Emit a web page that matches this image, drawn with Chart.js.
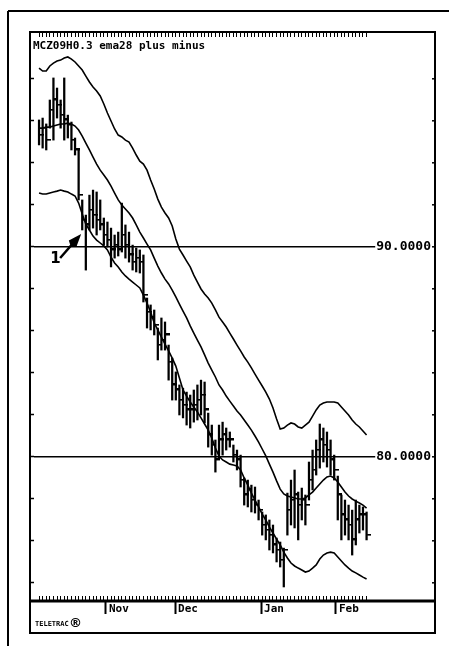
<!DOCTYPE html>
<html>
<head>
<meta charset="utf-8">
<script src="https://cdn.jsdelivr.net/npm/chart.js@4.4.0/dist/chart.umd.min.js"></script>
<style>
  html, body { margin: 0; padding: 0; background: #fff; }
  canvas { display: block; }
</style>
</head>
<body>
<canvas id="chart" width="449" height="646"></canvas>
<script>
// daily bars, one per trading day (index 0 = first bar of the chart)
const highs = [
  96.05, 96.14, 95.86, 97.00, 98.05, 97.57, 97.00, 98.05, 96.28, 95.95,
  95.19, 94.62, 92.24, 91.52, 92.47, 92.71, 92.62, 92.24, 91.38, 91.19,
  90.90, 90.57, 90.71, 92.09, 91.05, 90.71, 90.09, 89.95, 89.86, 89.62,
  87.57, 87.24, 87.00, 86.14, 86.62, 86.43, 85.33, 84.71, 84.05, 83.43,
  83.28, 83.09, 82.95, 83.19, 83.43, 83.66, 83.57, 82.09, 81.52, 80.81,
  81.52, 81.66, 81.38, 81.19, 80.57, 80.33, 80.09, 79.00, 78.90, 78.66,
  78.57, 77.95, 77.38, 77.24, 77.00, 76.76, 76.14, 75.95, 75.66, 78.28,
  78.90, 79.38, 78.33, 78.52, 78.19, 79.76, 80.33, 80.81, 81.57, 81.38,
  81.19, 80.81, 80.09, 79.09, 78.19, 77.95, 77.71, 77.47, 77.95, 77.71,
  77.62, 77.38
];
const lows = [
  94.86, 94.71, 94.62, 95.66, 95.09, 96.14, 95.66, 95.09, 95.19, 94.62,
  94.38, 92.24, 90.81, 88.90, 90.81, 90.90, 90.57, 90.81, 90.09, 90.00,
  89.05, 89.47, 89.57, 89.76, 89.47, 89.28, 88.90, 88.81, 88.76, 87.38,
  86.14, 86.05, 85.81, 84.62, 85.09, 85.09, 83.66, 82.71, 82.71, 82.00,
  81.86, 81.52, 81.38, 81.66, 81.76, 82.00, 81.62, 80.47, 80.09, 79.28,
  79.95, 80.09, 80.33, 80.47, 79.76, 79.38, 78.57, 77.71, 77.62, 77.38,
  77.33, 77.00, 76.28, 76.05, 75.57, 75.43, 75.00, 74.76, 73.81, 76.28,
  76.76, 76.62, 76.05, 77.00, 76.76, 77.95, 78.43, 79.14, 79.47, 79.76,
  79.52, 79.14, 78.90, 77.00, 76.05, 76.28, 76.05, 75.33, 75.81, 76.38,
  76.52, 76.05
];
const closes = [
  95.33, 95.66, 95.09, 96.52, 97.00, 96.76, 96.28, 96.05, 95.81, 95.09,
  94.62, 92.47, 91.28, 91.05, 91.76, 91.52, 91.28, 91.05, 90.57, 90.33,
  89.86, 90.09, 89.86, 90.57, 90.09, 89.62, 89.28, 89.47, 89.28, 87.71,
  86.90, 86.62, 86.28, 85.33, 85.57, 85.81, 84.52, 83.43, 83.19, 82.71,
  82.47, 82.24, 82.24, 82.47, 82.71, 82.95, 82.24, 81.05, 80.57, 79.86,
  80.81, 81.05, 80.81, 80.81, 80.09, 79.86, 78.90, 78.19, 78.43, 77.95,
  77.71, 77.47, 76.76, 76.52, 76.28, 75.81, 75.57, 75.09, 75.57, 77.47,
  77.95, 78.19, 77.71, 77.95, 77.71, 78.90, 79.38, 80.33, 80.81, 80.57,
  80.33, 79.86, 79.38, 78.19, 77.24, 77.00, 76.76, 76.05, 77.00, 77.24,
  77.24, 76.28
];

// ema28 and the plus / minus envelope
const ema28 = [
  95.66, 95.66, 95.71, 95.71, 95.76, 95.81, 95.86, 95.86, 95.90, 95.86,
  95.76, 95.57, 95.28, 94.95, 94.62, 94.28, 93.95, 93.66, 93.43, 93.19,
  92.90, 92.57, 92.24, 92.00, 91.81, 91.62, 91.38, 91.05, 90.71, 90.43,
  90.14, 89.86, 89.47, 89.09, 88.76, 88.47, 88.24, 87.95, 87.62, 87.28,
  86.95, 86.62, 86.24, 85.90, 85.57, 85.24, 84.86, 84.47, 84.14, 83.81,
  83.43, 83.19, 82.90, 82.66, 82.43, 82.19, 82.00, 81.76, 81.52, 81.28,
  81.00, 80.71, 80.38, 80.05, 79.66, 79.28, 78.86, 78.47, 78.24, 78.14,
  78.09, 78.05, 78.00, 78.00, 78.05, 78.19, 78.33, 78.52, 78.71, 78.90,
  79.05, 79.09, 79.00, 78.81, 78.57, 78.33, 78.14, 78.00, 77.90, 77.81,
  77.71, 77.57
];
const bandPlus = [
  98.52, 98.38, 98.38, 98.62, 98.76, 98.86, 98.90, 99.00, 99.05, 98.95,
  98.81, 98.62, 98.43, 98.14, 97.86, 97.62, 97.43, 97.19, 96.81, 96.38,
  96.00, 95.62, 95.33, 95.24, 95.09, 95.00, 94.71, 94.38, 94.09, 93.95,
  93.66, 93.19, 92.76, 92.28, 91.90, 91.62, 91.38, 91.00, 90.38, 89.90,
  89.62, 89.33, 89.05, 88.66, 88.33, 88.00, 87.76, 87.57, 87.33, 87.00,
  86.66, 86.43, 86.19, 85.90, 85.62, 85.33, 85.05, 84.76, 84.52, 84.24,
  83.95, 83.66, 83.38, 83.09, 82.76, 82.33, 81.81, 81.33, 81.38, 81.52,
  81.62, 81.57, 81.43, 81.38, 81.52, 81.66, 81.95, 82.24, 82.47, 82.57,
  82.62, 82.62, 82.62, 82.57, 82.38, 82.19, 82.00, 81.76, 81.57, 81.43,
  81.24, 81.05
];
const bandMinus = [
  92.57, 92.52, 92.52, 92.57, 92.62, 92.66, 92.71, 92.66, 92.62, 92.52,
  92.43, 92.09, 91.57, 91.09, 90.81, 90.52, 90.33, 90.19, 90.05, 89.86,
  89.52, 89.24, 89.05, 88.81, 88.62, 88.47, 88.33, 88.19, 88.05, 87.71,
  87.33, 86.90, 86.38, 86.05, 85.71, 85.38, 85.05, 84.71, 84.33, 83.76,
  83.19, 82.90, 82.62, 82.38, 82.14, 81.86, 81.57, 81.28, 80.90, 80.43,
  80.05, 79.86, 79.76, 79.66, 79.62, 79.57, 79.38, 79.00, 78.66, 78.28,
  77.95, 77.62, 77.28, 77.00, 76.66, 76.38, 76.09, 75.81, 75.47, 75.19,
  74.95, 74.81, 74.71, 74.62, 74.52, 74.57, 74.71, 74.86, 75.14, 75.33,
  75.43, 75.47, 75.43, 75.24, 75.05, 74.86, 74.71, 74.57, 74.48, 74.38,
  74.28, 74.19
];

// axis ticks and labels
const monthNames = ['Nov', 'Dec', 'Jan', 'Feb'];
const monthAt = [18.6, 37.8, 61.7, 82.5];
const yTicks = [74, 76, 78, 80, 82, 84, 86, 88, 90, 92, 94, 96, 98];
const refLevels = [80, 90];
const chartTitle = 'MCZ09H0.3 ema28 plus minus';

const xMin = -1.4, xMax = 108.9;
const yMin = 73.38, yMax = 100;
const mono = 'DejaVu Sans Mono';

// little tick to the right of each bar for the close
const closeTick = document.createElement('canvas');
closeTick.width = 9;
closeTick.height = 3;
const tctx = closeTick.getContext('2d');
tctx.fillStyle = '#000';
tctx.fillRect(5, 0, 4, 2);

const pts = arr => arr.map((v, i) => ({ x: i, y: v }));
const noPad = s => { s.paddingLeft = 0; s.paddingRight = 0; s.paddingTop = 0; s.paddingBottom = 0; };
const dayTicks = s => { s.ticks = highs.map((_, i) => ({ value: i })); };

const lineSet = (label, arr) => ({
  type: 'line', label, data: pts(arr), xAxisID: 'x', yAxisID: 'y',
  borderColor: '#000', borderWidth: 1.6, pointRadius: 0, fill: false, tension: 0
});

// frame, title, arrow and the TELETRAC mark
const framePlugin = {
  id: 'frame',
  afterDraw(chart) {
    const { ctx, chartArea: a, scales } = chart;
    const L = a.left - scales.y.width;
    const R = a.right + scales.yR.width;
    const T = a.top - scales.xTop.height;
    const D = a.bottom + scales.xDays.height;
    const B = scales.x.bottom;
    ctx.save();
    ctx.strokeStyle = '#000';
    ctx.fillStyle = '#000';
    const line = (x1, y1, x2, y2) => { ctx.beginPath(); ctx.moveTo(x1, y1); ctx.lineTo(x2, y2); ctx.stroke(); };

    ctx.lineWidth = 2;
    ctx.strokeRect(L, T, R - L, B - T);
    ctx.lineWidth = 3;
    line(L, D + 1, R, D + 1);

    // outer page frame
    ctx.lineWidth = 2;
    line(8, 11, 449, 11);
    line(8, 11, 8, 646);

    // title inside the plot
    ctx.font = 'bold 11px "' + mono + '"';
    ctx.textBaseline = 'top';
    ctx.textAlign = 'left';
    ctx.fillText(chartTitle, L + 3, T + 9);

    // arrow "1"
    const tx = scales.x.getPixelForValue(11.7);
    const ty = scales.y.getPixelForValue(90.62);
    const dx = -21, dy = 24;
    const len = Math.hypot(dx, dy), ux = dx / len, uy = dy / len;
    const hx = tx + ux * 13, hy = ty + uy * 13;
    ctx.beginPath();
    ctx.moveTo(tx, ty);
    ctx.lineTo(hx - uy * 5, hy + ux * 5);
    ctx.lineTo(hx + ux * 3, hy + uy * 3);
    ctx.lineTo(hx + uy * 5, hy - ux * 5);
    ctx.closePath();
    ctx.fill();
    ctx.lineWidth = 2.5;
    line(hx, hy, tx + dx, ty + dy);
    ctx.font = 'bold 15px "DejaVu Sans"';
    ctx.fillText('1', tx - 31, ty + 18);

    // TELETRAC mark
    ctx.font = 'bold 7px "' + mono + '"';
    ctx.fillText('TELETRAC', L + 5, B - 12);
    ctx.font = 'bold 13px "DejaVu Sans"';
    ctx.fillText('\u00AE', L + 39, B - 16);
    ctx.restore();
  }
};

new Chart(document.getElementById('chart'), {
  type: 'bar',
  data: {
    datasets: [
      lineSet('plus', bandPlus),
      lineSet('ema28', ema28),
      lineSet('minus', bandMinus),
      {
        type: 'bar', label: 'range', xAxisID: 'x', yAxisID: 'y',
        data: highs.map((h, i) => ({ x: i, y: [lows[i], h] })),
        backgroundColor: '#000', barThickness: 1.6, grouped: false
      },
      {
        type: 'line', label: 'close', xAxisID: 'x', yAxisID: 'y',
        data: pts(closes), showLine: false,
        pointStyle: closeTick, pointRadius: 4
      }
    ]
  },
  options: {
    responsive: false,
    animation: false,
    devicePixelRatio: 1,
    layout: { padding: { left: 30, right: 14, top: 32, bottom: 13 } },
    plugins: { legend: { display: false }, tooltip: { enabled: false } },
    scales: {
      x: {
        type: 'linear', position: 'bottom', min: xMin, max: xMax, weight: 1, offset: false,
        afterBuildTicks: s => { s.ticks = monthAt.map(v => ({ value: v })); },
        afterFit: s => { s.height = 33; noPad(s); },
        border: { display: false },
        grid: { offset: false, drawOnChartArea: false, tickLength: 14, tickWidth: 2, tickColor: '#000' },
        ticks: {
          autoSkip: false, maxRotation: 0, align: 'start', labelOffset: 3, padding: -11,
          color: '#000', font: { family: mono, size: 11, weight: 'bold' },
          callback: (v, i) => monthNames[i]
        }
      },
      xDays: {
        type: 'linear', position: 'bottom', min: xMin, max: xMax, weight: 0, offset: false,
        afterBuildTicks: dayTicks,
        afterFit: s => { s.height = 4; noPad(s); },
        border: { display: false },
        grid: { offset: false, drawOnChartArea: false, tickLength: 4, tickWidth: 1, tickColor: '#000' },
        ticks: { display: false }
      },
      xTop: {
        type: 'linear', position: 'top', min: xMin, max: xMax, offset: false,
        afterBuildTicks: dayTicks,
        afterFit: s => { s.height = 5; noPad(s); },
        border: { display: false },
        grid: { offset: false, drawOnChartArea: false, tickLength: 5, tickWidth: 1, tickColor: '#000' },
        ticks: { display: false }
      },
      y: {
        type: 'linear', position: 'left', min: yMin, max: yMax,
        afterBuildTicks: s => { s.ticks = yTicks.map(v => ({ value: v })); },
        afterFit: s => { s.width = 4; noPad(s); },
        border: { display: false },
        grid: { drawOnChartArea: false, tickLength: 4, tickWidth: 1.5, tickColor: '#000' },
        ticks: { display: false }
      },
      yR: {
        type: 'linear', position: 'right', min: yMin, max: yMax,
        afterBuildTicks: s => { s.ticks = yTicks.map(v => ({ value: v })); },
        afterFit: s => { s.width = 4; noPad(s); },
        border: { display: false },
        grid: {
          color: c => (c.tick && refLevels.includes(c.tick.value)) ? '#000' : 'rgba(0,0,0,0)',
          lineWidth: 1.6, tickLength: 4, tickWidth: 1.5, tickColor: '#000'
        },
        ticks: {
          mirror: true, padding: 0, autoSkip: false, color: '#000',
          font: { family: mono, size: 13, weight: 'bold' },
          showLabelBackdrop: true, backdropColor: '#fff', backdropPadding: { x: 1, y: 0 },
          callback: v => refLevels.includes(v) ? v.toFixed(4) : ''
        }
      }
    }
  },
  plugins: [framePlugin]
});
</script>
</body>
</html>
